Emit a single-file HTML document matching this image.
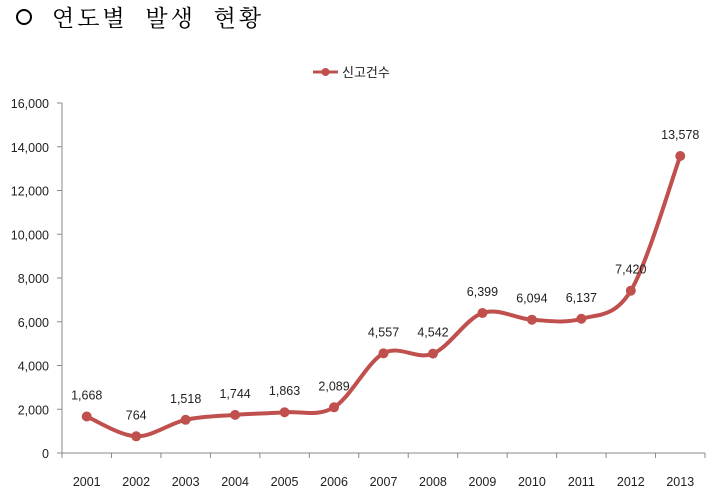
<!DOCTYPE html>
<html><head><meta charset="utf-8"><style>
body{margin:0;background:#fff;width:716px;height:499px;overflow:hidden}
text{font-family:"Liberation Sans","Noto Sans CJK KR",sans-serif}
</style></head><body>
<svg width="716" height="499">
<circle cx="24" cy="17" r="7" fill="none" stroke="#000" stroke-width="2"/>
<text x="52" y="26" font-size="23" letter-spacing="3" style="font-family:'Noto Serif CJK SC','Liberation Serif',serif;white-space:pre" xml:space="preserve">연도별  발생  현황</text>
<g>
<line x1="313" y1="72" x2="338" y2="72" stroke="#c0504d" stroke-width="3"/>
<circle cx="325.5" cy="72" r="4" fill="#c0504d"/>
<text x="342" y="77" font-size="13" fill="#222">신고건수</text>
</g>
<g id="axes"></g>
<g id="plot"></g>
</svg>
<script>
const categories=["2001","2002","2003","2004","2005","2006","2007","2008","2009","2010","2011","2012","2013"];
const values=[1668,764,1518,1744,1863,2089,4557,4542,6399,6094,6137,7420,13578];
const yTicks=[0,2000,4000,6000,8000,10000,12000,14000,16000];
const NS="http://www.w3.org/2000/svg";
const L=62,R=705,T=103,B=453,yMax=16000;
const step=(R-L)/categories.length;
const xs=i=>L+step*(i+0.5);
const ys=v=>B-(v/yMax)*(B-T);
const fmt=v=>v.toLocaleString("en-US");
function mk(tag,attrs,parent){const e=document.createElementNS(NS,tag);for(const k in attrs)e.setAttribute(k,attrs[k]);parent.appendChild(e);return e;}
const ax=document.getElementById("axes"),pl=document.getElementById("plot");
const yl=mk("line",{x1:L,y1:T,x2:L,y2:B,stroke:"#888"},ax);


const xl=mk("line",{x1:L,y1:B,x2:R,y2:B,stroke:"#888"},ax);


yTicks.forEach(v=>{
 mk("line",{x1:L-5,y1:ys(v),x2:L,y2:ys(v),stroke:"#888"},ax);
 const t=mk("text",{x:L-13,y:ys(v)+5,"font-size":12.5,"text-anchor":"end",fill:"#222"},ax);
 t.textContent=fmt(v);
 
 
});
for(let i=0;i<=categories.length;i++)mk("line",{x1:L+step*i,y1:B,x2:L+step*i,y2:B+5,stroke:"#888"},ax);
categories.forEach((c,i)=>{
 const t=mk("text",{x:xs(i),y:B+33,"font-size":12.5,"text-anchor":"middle",fill:"#222"},ax);
 t.textContent=c;
 
 
});
const P=values.map((v,i)=>[xs(i),ys(v)]);
let d="M"+P[0][0]+","+P[0][1];
for(let i=0;i<P.length-1;i++){
 const p0=P[Math.max(0,i-1)],p1=P[i],p2=P[i+1],p3=P[Math.min(P.length-1,i+2)],k=6;
 d+=` C${p1[0]+(p2[0]-p0[0])/k},${p1[1]+(p2[1]-p0[1])/k} ${p2[0]-(p3[0]-p1[0])/k},${p2[1]-(p3[1]-p1[1])/k} ${p2[0]},${p2[1]}`;
}
const line=mk("path",{d:d,fill:"none",stroke:"#c0504d","stroke-width":4,"stroke-linejoin":"round"},pl);


P.forEach((p,i)=>{
 const c=mk("circle",{cx:p[0],cy:p[1],r:5,fill:"#c0504d"},pl);
 
 
 const t=mk("text",{x:p[0],y:p[1]-17,"font-size":12.5,"text-anchor":"middle",fill:"#222"},pl);
 t.textContent=fmt(values[i]);
 
 
});
</script>
</body></html>
